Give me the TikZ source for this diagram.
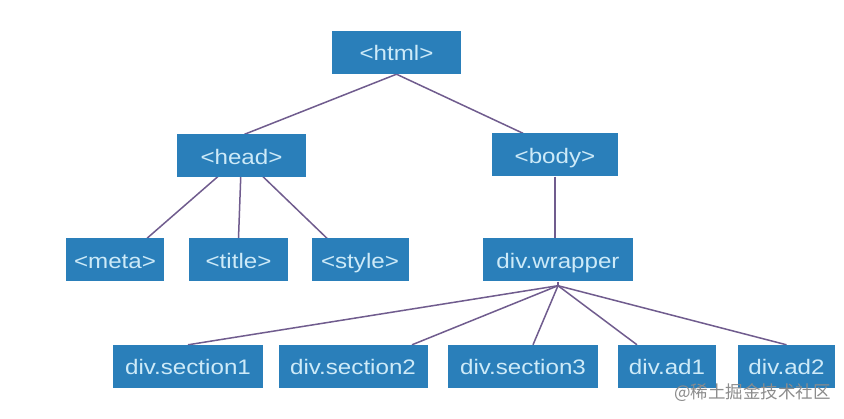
\documentclass[tikz,border=0pt]{standalone}
\usepackage{fontspec}
\setmainfont[FakeStretch=1.15]{Liberation Sans}
\newfontfamily\cjk{Noto Sans CJK SC}
\usetikzlibrary{backgrounds}
\pgfdeclarelayer{paper}
\pgfsetlayers{paper,background,main}
\definecolor{boxblue}{RGB}{42,127,186}
\definecolor{boxtext}{RGB}{205,234,248}
\definecolor{linkcol}{RGB}{112,92,142}
\definecolor{wmark}{RGB}{140,140,140}
\tikzset{
  tag/.style={fill=boxblue, text=boxtext, inner sep=0pt, minimum height=43pt,
    text height=19pt, text depth=2pt,
    font=\fontsize{21}{24}\selectfont},
  link/.style={draw=linkcol, line width=1.5pt},
}
\begin{document}
\begin{tikzpicture}[x=1pt,y=-1pt]
\useasboundingbox (0,0) rectangle (844,419);
\begin{pgfonlayer}{paper}
\fill[white] (0,0) rectangle (844,419);
\end{pgfonlayer}
% nodes
\node[tag, minimum width=129pt] (html) at (396.5,52.5) {<html>};
\node[tag, minimum width=129pt] (head) at (241.5,156) {<head>};
\node[tag, minimum width=126pt] (body) at (555,155) {<body>};
\node[tag, minimum width=98pt] (meta) at (115,260) {<meta>};
\node[tag, minimum width=99pt] (title) at (238.5,260) {<title>};
\node[tag, minimum width=97pt] (style) at (360,260) {<style>};
\node[tag, minimum width=150pt] (wrap) at (558,260) {div.wrapper};
\node[tag, minimum width=150pt] (s1) at (188,366.5) {div.section1};
\node[tag, minimum width=149pt] (s2) at (353,366.5) {div.section2};
\node[tag, minimum width=150pt] (s3) at (523,366.5) {div.section3};
\node[tag, minimum width=98pt] (ad1) at (667,366.5) {div.ad1};
\node[tag, minimum width=97pt] (ad2) at (786.5,366.5) {div.ad2};
\coordinate (fan) at ([yshift=-4pt]wrap.south);
% connectors
\begin{pgfonlayer}{background}
\draw[link] (html.south) -- ([xshift=3pt]head.north);
\draw[link] (html.south) -- ([xshift=-32pt]body.north);
\draw[link] (head.center) -- ([xshift=32pt]meta.north);
\draw[link] (head.center) -- (title.north);
\draw[link] (head.center) -- ([xshift=-33pt]style.north);
\draw[link] (body.south) -- (body.south |- wrap.north);
\draw[link] (wrap.south) -- (fan);
\draw[link] (fan) -- (s1.north);
\draw[link] (fan) -- ([xshift=59pt]s2.north);
\draw[link] (fan) -- ([xshift=10pt]s3.north);
\draw[link] (fan) -- ([xshift=-30pt]ad1.north);
\draw[link] (fan) -- (ad2.north);
\end{pgfonlayer}
% watermark
\node[text=wmark, font=\cjk\fontsize{17.5}{20}\selectfont, inner sep=0pt, anchor=east] (wm) at (831,393) {@稀土掘金技术社区};
\end{tikzpicture}
\end{document}
